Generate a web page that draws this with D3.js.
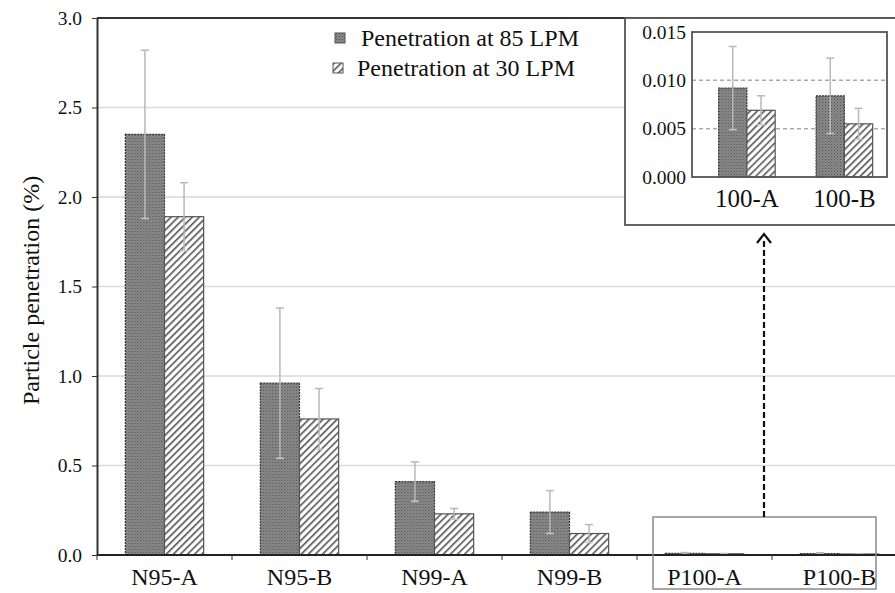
<!DOCTYPE html>
<html>
<head>
<meta charset="utf-8">
<script src="https://cdn.jsdelivr.net/npm/d3@7"></script>
<style>
  body { margin: 0; background: #fff; }
  svg text { font-family: "Times New Roman", "Liberation Serif", Times, "DejaVu Serif", serif !important; }
</style>
</head>
<body>
<div id="chart"></div>
<script>
// values (percent)
var categories = ["N95-A", "N95-B", "N99-A", "N99-B", "P100-A", "P100-B"];
var pen85 = [2.35, 0.96, 0.41, 0.24, 0.0092, 0.0084];
var err85 = [0.47, 0.42, 0.11, 0.12, 0.0043, 0.0039];
var pen30 = [1.89, 0.76, 0.23, 0.12, 0.0069, 0.0055];
var err30 = [0.19, 0.17, 0.03, 0.05, 0.0015, 0.0016];
var seriesNames = ["Penetration at 85 LPM", "Penetration at 30 LPM"];
var yTicks = [0, 0.5, 1.0, 1.5, 2.0, 2.5, 3.0];
var insetCategories = ["100-A", "100-B"];
var insetTicks = [0, 0.005, 0.010, 0.015];

var width = 895, height = 593;

var svg = d3.select("#chart").append("svg")
    .attr("width", width)
    .attr("height", height);

// patterns
var defs = svg.append("defs");
var dots = defs.append("pattern")
    .attr("id", "dots")
    .attr("patternUnits", "userSpaceOnUse")
    .attr("width", 3).attr("height", 3);
dots.append("rect").attr("width", 3).attr("height", 3).attr("fill", "#8c8c8c");
dots.append("rect").attr("width", 1).attr("height", 1).attr("fill", "#4a4a4a");
dots.append("rect").attr("x", 1.5).attr("y", 1.5).attr("width", 1).attr("height", 1).attr("fill", "#5a5a5a");

var hatch = defs.append("pattern")
    .attr("id", "hatch")
    .attr("patternUnits", "userSpaceOnUse")
    .attr("width", 5).attr("height", 5)
    .attr("patternTransform", "rotate(45)");
hatch.append("rect").attr("width", 5).attr("height", 5).attr("fill", "#fff");
hatch.append("rect").attr("width", 1.6).attr("height", 5).attr("fill", "#555");

var fills = ["url(#dots)", "url(#hatch)"];
var strokes = ["#333", "#555"];

// ---------- main chart ----------
var mLeft = 97, mTop = 18, mBottom = 555, mRight = 907;

var x0 = d3.scaleBand()
    .domain(categories)
    .range([mLeft, mRight])
    .paddingInner(0.42)
    .paddingOuter(0.21);

var x1 = d3.scaleBand()
    .domain([0, 1])
    .range([0, x0.bandwidth()]);

var y = d3.scaleLinear()
    .domain([0, 3])
    .range([mBottom, mTop]);

// gridlines
svg.append("g").selectAll("line")
    .data(yTicks.slice(1, -1))
    .enter().append("line")
    .attr("x1", mLeft).attr("x2", width)
    .attr("y1", d => y(d)).attr("y2", d => y(d))
    .attr("stroke", "#d9d9d9")
    .attr("stroke-width", 1.5);

// top border
svg.append("line")
    .attr("x1", mLeft).attr("x2", width)
    .attr("y1", y(3)).attr("y2", y(3))
    .attr("stroke", "#333").attr("stroke-width", 2);

var rows = categories.map((c, i) => ({
    cat: c,
    vals: [
        { s: 0, v: pen85[i], e: err85[i] },
        { s: 1, v: pen30[i], e: err30[i] }
    ]
}));

function drawBars(g, data, xA, xB, yS) {
    var grp = g.selectAll(null)
        .data(data)
        .enter().append("g")
        .attr("transform", d => "translate(" + xA(d.cat) + ",0)");

    grp.selectAll("rect")
        .data(d => d.vals)
        .enter().append("rect")
        .attr("x", d => xB(d.s))
        .attr("y", d => yS(d.v))
        .attr("width", xB.bandwidth())
        .attr("height", d => yS(0) - yS(d.v))
        .attr("fill", d => fills[d.s])
        .attr("stroke", d => strokes[d.s])
        .attr("stroke-width", 1.2)
        .attr("stroke-dasharray", d => d.s == 0 ? "2,1" : null);

    // error bars
    var eb = grp.selectAll(".err")
        .data(d => d.vals)
        .enter().append("g")
        .attr("class", "err")
        .attr("stroke", "#b8b8b8")
        .attr("stroke-width", 1.5);
    eb.append("line")
        .attr("x1", d => xB(d.s) + xB.bandwidth() / 2)
        .attr("x2", d => xB(d.s) + xB.bandwidth() / 2)
        .attr("y1", d => yS(d.v - d.e))
        .attr("y2", d => yS(d.v + d.e));
    eb.append("line")
        .attr("x1", d => xB(d.s) + xB.bandwidth() / 2 - 4)
        .attr("x2", d => xB(d.s) + xB.bandwidth() / 2 + 4)
        .attr("y1", d => yS(d.v + d.e))
        .attr("y2", d => yS(d.v + d.e));
    eb.append("line")
        .attr("x1", d => xB(d.s) + xB.bandwidth() / 2 - 4)
        .attr("x2", d => xB(d.s) + xB.bandwidth() / 2 + 4)
        .attr("y1", d => yS(d.v - d.e))
        .attr("y2", d => yS(d.v - d.e))
        .attr("stroke", "#c8c8c8");
}

drawBars(svg.append("g"), rows, x0, x1, y);

// y axis
var yAxis = svg.append("g")
    .attr("transform", "translate(" + mLeft + ",0)")
    .call(d3.axisLeft(y).tickValues(yTicks).tickFormat(d3.format(".1f")).tickSize(5).tickSizeOuter(0));
yAxis.selectAll("text").attr("font-size", 19.5).attr("fill", "#111").attr("x", -15);
yAxis.selectAll("line").attr("stroke", "#333");
yAxis.select(".domain").attr("stroke", "#333").attr("stroke-width", 2);

// x axis
var xAxis = svg.append("g").attr("transform", "translate(0," + mBottom + ")");
xAxis.append("line")
    .attr("x1", mLeft).attr("x2", width)
    .attr("stroke", "#222").attr("stroke-width", 2);
xAxis.selectAll(".tk")
    .data(categories.concat(["end"]))
    .enter().append("line")
    .attr("x1", (d, i) => mLeft + i * x0.step())
    .attr("x2", (d, i) => mLeft + i * x0.step())
    .attr("y1", 0).attr("y2", 5)
    .attr("stroke", "#333");
xAxis.selectAll("text")
    .data(categories)
    .enter().append("text")
    .attr("x", d => x0(d) + x0.bandwidth() / 2)
    .attr("y", 30)
    .attr("text-anchor", "middle")
    .attr("font-size", 24)
    .attr("fill", "#111")
    .text(d => d);

// y title
svg.append("text")
    .attr("transform", "translate(39," + ((mTop + mBottom) / 2 + 4) + ") rotate(-90)")
    .attr("text-anchor", "middle")
    .attr("font-size", 24)
    .attr("fill", "#111")
    .text("Particle penetration (%)");

// legend
var legend = svg.append("g");
var legX = [335, 333], legTx = [361, 357], legY = [38, 68];
seriesNames.forEach((name, i) => {
    legend.append("rect")
        .attr("x", legX[i]).attr("y", legY[i] - 5)
        .attr("width", 10).attr("height", 10)
        .attr("fill", fills[i])
        .attr("stroke", "#555").attr("stroke-width", 1);
    legend.append("text")
        .attr("x", legTx[i]).attr("y", legY[i] + 8)
        .attr("font-size", 24)
        .attr("fill", "#111")
        .text(name);
});

// highlight box around the P100 bars
svg.append("rect")
    .attr("x", 653).attr("y", 517)
    .attr("width", 223).attr("height", 72)
    .attr("fill", "none")
    .attr("stroke", "#8a8a8a").attr("stroke-width", 1.5);

// dashed arrow
svg.append("line")
    .attr("x1", 764).attr("x2", 764)
    .attr("y1", 517).attr("y2", 238)
    .attr("stroke", "#111").attr("stroke-width", 2.2)
    .attr("stroke-dasharray", "6,3");
svg.append("path")
    .attr("d", "M757,243 L764,234 L771,243")
    .attr("fill", "none")
    .attr("stroke", "#111").attr("stroke-width", 2.2);

// ---------- inset ----------
var inset = svg.append("g");
inset.append("rect")
    .attr("x", 625).attr("y", 18)
    .attr("width", 290).attr("height", 207)
    .attr("fill", "#fff")
    .attr("stroke", "#555").attr("stroke-width", 1.8);

var iLeft = 692, iRight = 887, iTop = 32, iBottom = 177;

var ix0 = d3.scaleBand()
    .domain(insetCategories)
    .range([iLeft, iRight])
    .paddingInner(0.42)
    .paddingOuter(0.21)
    .align(0.65);
var ix1 = d3.scaleBand().domain([0, 1]).range([0, ix0.bandwidth()]);
var iy = d3.scaleLinear().domain([0, 0.015]).range([iBottom, iTop]);

inset.selectAll(".igrid")
    .data([0.005, 0.010])
    .enter().append("line")
    .attr("x1", iLeft).attr("x2", iRight)
    .attr("y1", d => iy(d)).attr("y2", d => iy(d))
    .attr("stroke", "#aaa").attr("stroke-width", 1.5)
    .attr("stroke-dasharray", "4,3");

var insetRows = insetCategories.map((c, k) => {
    var i = k + 4;
    return {
        cat: c,
        vals: [
            { s: 0, v: pen85[i], e: err85[i] },
            { s: 1, v: pen30[i], e: err30[i] }
        ]
    };
});
drawBars(inset.append("g"), insetRows, ix0, ix1, iy);

// inset frame
inset.append("rect")
    .attr("x", iLeft).attr("y", iTop)
    .attr("width", iRight - iLeft).attr("height", iBottom - iTop)
    .attr("fill", "none")
    .attr("stroke", "#555").attr("stroke-width", 1.8);

var iAxis = inset.append("g")
    .attr("transform", "translate(" + iLeft + ",0)")
    .call(d3.axisLeft(iy).tickValues(insetTicks).tickFormat(d3.format(".3f")).tickSize(0));
iAxis.select(".domain").remove();
iAxis.selectAll("text").attr("font-size", 19.5).attr("fill", "#111").attr("x", -6);

inset.selectAll(".ilab")
    .data(insetCategories)
    .enter().append("text")
    .attr("x", d => ix0(d) + ix0.bandwidth() / 2)
    .attr("y", iBottom + 30)
    .attr("text-anchor", "middle")
    .attr("font-size", 25)
    .attr("fill", "#111")
    .text(d => d);
</script>
</body>
</html>
